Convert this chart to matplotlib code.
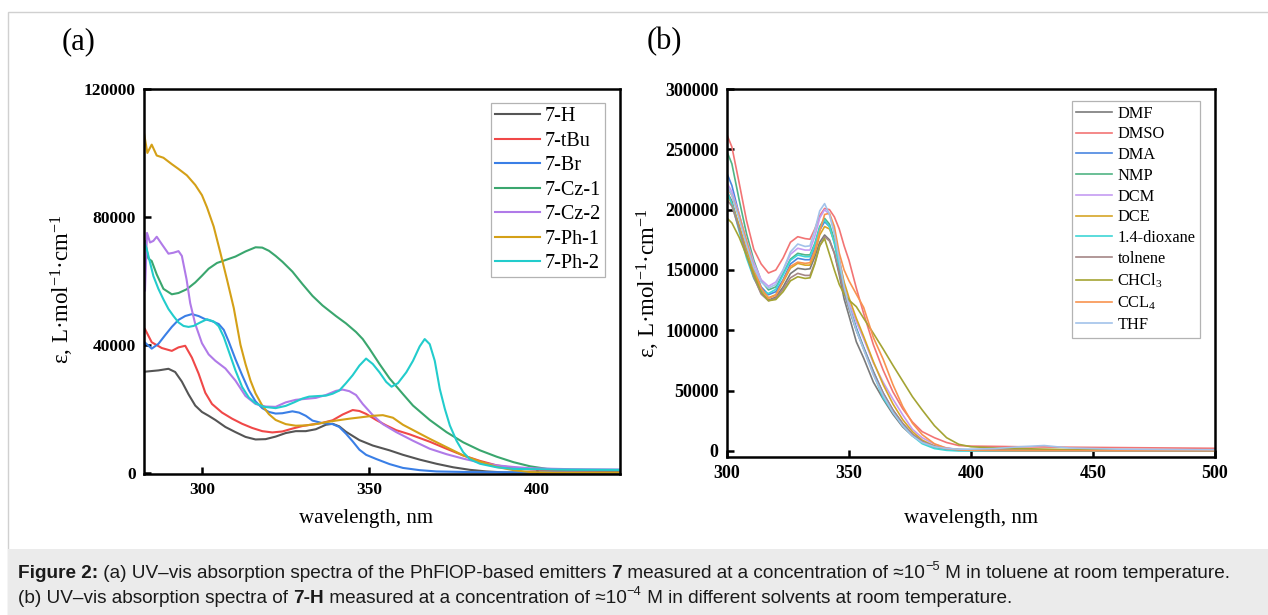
import matplotlib
matplotlib.use("Agg")
import matplotlib.pyplot as plt
from matplotlib.patches import Rectangle

# ---------------- Panel (a) data: 7 emitters in toluene ----------------
h_wl = [283, 287, 290, 292, 294, 296, 298, 300, 302, 304, 307, 310, 313, 316, 319, 322, 325, 328,
        331, 334, 337, 339, 341, 343, 347, 351, 356, 360, 365, 370, 375, 380, 385, 390, 400, 425]
h_eps = [31600, 32000, 32500, 31500, 28500, 24500, 21000, 19000, 17800, 16500, 14300, 12700, 11200,
         10400, 10500, 11300, 12400, 13000, 13000, 13600, 15000, 15300, 14500, 12800, 10200, 8500,
         7000, 5600, 4100, 2800, 1700, 900, 400, 100, 0, 0]

tbu_wl = [283, 285, 288, 291, 293, 295, 297, 299, 301, 303, 306, 309, 312, 315, 318, 321, 324, 327,
          330, 333, 336, 339, 342, 345, 347, 349, 352, 355, 358, 362, 368, 373, 378, 383, 388, 393,
          398, 405, 425]
tbu_eps = [44900, 40800, 39000, 38100, 39200, 39700, 36000, 31000, 25000, 21500, 18800, 16900, 15300,
           14000, 13000, 12600, 12900, 13800, 14600, 15100, 15600, 16400, 18200, 19600, 19300, 18400,
           16500, 14800, 13300, 12000, 9700, 7500, 5400, 3700, 2300, 1500, 1000, 700, 500]

br_wl = [283, 285, 287, 289, 291, 293, 295, 297, 299, 301, 303, 305, 306.5, 308, 310, 312, 314, 316,
         318, 320, 322, 324, 327, 329, 331, 333, 336, 339, 341, 343, 345, 347, 349, 352, 356, 360,
         365, 370, 380, 400, 425]
br_eps = [40700, 38800, 40300, 43000, 45600, 47800, 49000, 49600, 49000, 48000, 47400, 46500, 44700,
          41000, 35500, 30500, 25800, 22300, 20200, 19000, 18500, 18600, 19200, 18800, 17800, 16300,
          15500, 15200, 14300, 12200, 9800, 7200, 5600, 4300, 2700, 1500, 800, 400, 200, 100, 0]

cz1_wl = [283, 284, 285, 286.5, 288.5, 291, 293, 295.5, 298, 300, 302, 304.5, 307, 310, 313, 316, 318,
          320, 322, 324, 327, 330, 333, 336, 340, 343, 346, 348, 350, 353, 356, 360, 363, 368, 373,
          378, 383, 388, 393, 398, 403, 410, 425]
cz1_eps = [72400, 67000, 66200, 62000, 57500, 55800, 56200, 57400, 59500, 61600, 63800, 65600, 66500,
           67600, 69200, 70500, 70400, 69400, 67800, 66000, 62900, 59000, 55300, 52300, 49000, 46700,
           44000, 41800, 38800, 34000, 29500, 24600, 21000, 16500, 12700, 9500, 7000, 5000, 3300,
           2000, 1200, 900, 700]

cz2_wl = [283, 283.6, 284.5, 285.5, 286.5, 288, 290, 291.5, 293, 294, 295.4, 296.5, 298, 300, 302, 304,
          307, 310, 313, 316, 319, 322, 325, 328, 331, 334, 337, 340, 342, 344, 346, 348, 351, 354,
          358, 363, 368, 373, 378, 383, 388, 393, 398, 410, 425]
cz2_eps = [57000, 75000, 72000, 72500, 73800, 71500, 68500, 68800, 69300, 67800, 60500, 53000, 46500,
           40500, 37000, 35000, 32600, 28800, 24000, 21500, 20700, 20600, 22000, 22800, 23100, 23400,
           24300, 25600, 26000, 25500, 24300, 21500, 18000, 15200, 12700, 10000, 7500, 5800, 4400,
           3200, 2300, 1800, 1400, 1100, 1000]

ph1_wl = [282.7, 283.7, 285, 286.5, 288.5, 291, 293, 295.5, 298, 300, 301.5, 303.5, 305.5, 307.5,
          309.5, 311.5, 313, 314.5, 316, 318, 320, 322, 325, 328, 331, 334, 337, 340, 344, 348, 351,
          354, 357, 360, 364, 368, 373, 378, 383, 388, 393, 398, 405, 425]
ph1_eps = [106200, 100000, 102600, 99200, 98500, 96500, 95000, 93000, 90000, 86800, 83000, 77000,
           68800, 60300, 51500, 40000, 34000, 28800, 24800, 21000, 18300, 16500, 15200, 14700, 14800,
           15200, 15800, 16300, 16900, 17400, 17800, 18000, 17200, 15000, 12800, 10600, 8000, 5400,
           3500, 1800, 800, 200, 0, 0]

ph2_wl = [282.7, 283.5, 285.5, 287, 288.5, 290, 291.5, 293, 294.5, 296, 297.5, 299.5, 301.5, 303.5,
          305, 306.5, 308, 310, 312, 314, 316, 318.5, 322, 325, 327.5, 330, 332, 335, 337, 339, 341,
          343, 345, 347, 349, 351, 353, 355, 356.6, 358.5, 361, 363, 365, 366.5, 368, 369.5, 371,
          372.5, 374, 376, 378, 380, 383, 388, 393, 405, 425]
ph2_eps = [72400, 70000, 61500, 57500, 54200, 51200, 49000, 47000, 45900, 45600, 45900, 47000, 48000,
           47300, 45800, 42500, 38000, 32000, 26800, 23500, 21700, 20600, 20200, 20900, 22000, 23200,
           23800, 24000, 24100, 24700, 25700, 28000, 30500, 33500, 35700, 34000, 31400, 28400, 26900,
           28000, 31400, 35000, 39500, 41800, 40200, 35000, 26200, 20000, 14800, 10000, 6400, 4200,
           2800, 1700, 1200, 1000, 900]

a_labels = ["7-H", "7-tBu", "7-Br", "7-Cz-1", "7-Cz-2", "7-Ph-1", "7-Ph-2"]
a_colors = ["#555555", "#f04848", "#3a7fe6", "#3aa66e", "#b07ae8", "#d4a017", "#22cccc"]
a_series = [(h_wl, h_eps), (tbu_wl, tbu_eps), (br_wl, br_eps), (cz1_wl, cz1_eps),
            (cz2_wl, cz2_eps), (ph1_wl, ph1_eps), (ph2_wl, ph2_eps)]

# ---------------- Panel (b) data: 7-H in different solvents ----------------
b_wl = [300, 302, 305, 308, 311, 314, 317, 320, 323, 326, 329, 332, 334, 336, 338, 340, 342, 344,
        346, 348, 350, 353, 356, 360, 364, 368, 372, 376, 380, 385, 390, 395, 400, 410, 420, 430,
        440, 460, 480, 500]

dmf = [215000, 207000, 185000, 162000, 144000, 131000, 125000, 127500, 136000, 147000, 151400, 150500,
       151000, 161000, 173000, 179000, 175000, 164000, 146000, 126000, 112000, 90500, 77000, 57000,
       43000, 30500, 20000, 12500, 7500, 4000, 2200, 1200, 800, 500, 400, 300, 300, 200, 200, 200]
dmso = [262000, 252000, 222000, 191000, 167000, 155000, 147500, 150000, 160000, 173000, 177600, 176000,
        175500, 184000, 195000, 201000, 200000, 194000, 184000, 170000, 158000, 135000, 114000, 88000,
        67000, 49000, 35000, 24000, 16000, 11000, 7000, 4500, 4000, 3800, 3500, 3300, 3100, 2800, 2500,
        2200]
dma = [230000, 220000, 196000, 172000, 151000, 136000, 129500, 132000, 142000, 155000, 159700, 158500,
       158500, 168000, 183000, 190000, 186000, 173000, 155000, 136000, 121000, 102000, 86000, 66000,
       48000, 34000, 22500, 13500, 7500, 3500, 1500, 800, 500, 400, 300, 300, 300, 200, 200, 200]
nmp = [248000, 238000, 208000, 180000, 158000, 141000, 133500, 136000, 147000, 159000, 163800, 162500,
       162500, 172000, 186000, 192800, 188000, 175000, 156000, 136000, 121000, 101000, 85000, 65000,
       47000, 33000, 22000, 13000, 7000, 3000, 1300, 700, 500, 400, 300, 300, 300, 200, 200, 200]
dcm = [222000, 215000, 196000, 175000, 156000, 142000, 136500, 140000, 150000, 163000, 168000, 166500,
       166500, 178000, 193000, 200000, 196000, 182000, 160000, 138000, 123000, 107000, 93000, 73000,
       57000, 43000, 30000, 18000, 11000, 5500, 2500, 1200, 600, 200, 0, 0, 0, 0, 0, 0]
dce = [212000, 205000, 187000, 167000, 148000, 134000, 127000, 129500, 140000, 151500, 155500, 154000,
       154000, 164000, 179000, 186000, 184000, 174000, 158000, 140000, 127000, 110000, 95000, 74000,
       55000, 39000, 26000, 16000, 9000, 4000, 1800, 1000, 700, 500, 400, 400, 300, 300, 300, 300]
dioxane = [215000, 205000, 182000, 160000, 143000, 133000, 130500, 134000, 146000, 158000, 162400,
           161000, 161000, 171000, 185000, 191400, 186000, 172000, 152000, 131000, 118000, 100000,
           85000, 64000, 44000, 32000, 21000, 12500, 6000, 2000, 500, 0, 0, 0, 0, 0, 0, 0, 0, 0]
tolnene = [208000, 203000, 184000, 163000, 144000, 130000, 124500, 126500, 134000, 143500, 147200,
           145500, 145500, 156000, 170000, 177600, 174000, 164000, 148000, 131000, 118000, 100000,
           85000, 65000, 48000, 34000, 23000, 14000, 8000, 3800, 1800, 1000, 700, 500, 400, 300, 300,
           300, 300, 300]
chcl3 = [193000, 189000, 177000, 162000, 146000, 132000, 124500, 125500, 132000, 141000, 144400,
         143000, 143500, 155000, 170000, 176000, 163000, 150000, 138000, 130000, 125000, 119600, 110000,
         97500, 84500, 71000, 58000, 45000, 34000, 21000, 11000, 5500, 3500, 2500, 2000, 1500, 1200,
         1000, 800, 600]
ccl4 = [218000, 212000, 195000, 174000, 152000, 135000, 126500, 129000, 141000, 153000, 156500, 155500,
        156000, 166000, 182000, 196000, 197000, 186000, 164000, 150000, 141000, 130000, 119000, 94000,
        76000, 55000, 37000, 23000, 13500, 6000, 2200, 1000, 500, 400, 300, 300, 300, 200, 200, 200]
thf = [220000, 212000, 192000, 171000, 152000, 140000, 135000, 138000, 150000, 165000, 171500, 169500,
       170000, 183000, 199000, 205000, 196000, 180000, 158000, 136000, 120000, 100000, 84000, 63000,
       46000, 32000, 21000, 12500, 7000, 3500, 2000, 1500, 1500, 2000, 3500, 4500, 2500, 1500, 1200,
       1000]

b_labels = ["DMF", "DMSO", "DMA", "NMP", "DCM", "DCE", "1.4-dioxane", "tolnene",
            "CHCl$_3$", "CCL$_4$", "THF"]
b_colors = ["#7a7a7a", "#f27474", "#4a86e0", "#50b484", "#c59cf2", "#d6a628", "#3ed6d6",
            "#a48686", "#a4a434", "#f8934f", "#a2c2ea"]
b_series = [dmf, dmso, dma, nmp, dcm, dce, dioxane, tolnene, chcl3, ccl4, thf]

# ---------------- Figure ----------------
W, H = 1268, 615
plt.rcParams["font.family"] = ["Liberation Serif", "DejaVu Serif"]
plt.rcParams["mathtext.fontset"] = "custom"
plt.rcParams["mathtext.rm"] = "Liberation Serif"
plt.rcParams["mathtext.it"] = "Liberation Serif:italic"
plt.rcParams["mathtext.bf"] = "Liberation Serif:bold"

fig = plt.figure(figsize=(W / 100, H / 100), dpi=100)
fig.patch.set_facecolor("white")


def px_rect(l, t, r, b):
    return [l / W, 1 - b / H, (r - l) / W, (b - t) / H]


# outer frame and caption background
fig.patches.append(Rectangle((8 / W, 0), 1 - 8 / W + 0.01, 1 - 12 / H, transform=fig.transFigure,
                             facecolor="none", edgecolor="#d0d0d0", lw=1.0))
fig.patches.append(Rectangle((8 / W, 0), 1 - 8 / W + 0.01, (H - 549) / H, transform=fig.transFigure,
                             facecolor="#ebebeb", edgecolor="none"))

ax1 = fig.add_axes(px_rect(144, 89, 620, 474))
ax2 = fig.add_axes(px_rect(727, 89, 1215, 457))

for (wl, eps), lab, col in zip(a_series, a_labels, a_colors):
    ax1.plot(wl, eps, color=col, lw=1.5, label=lab)
for vals, lab, col in zip(b_series, b_labels, b_colors):
    ax2.plot(b_wl, vals, color=col, lw=1.2, label=lab)

ax1.set_xlim(282.7, 424.8)
ax1.set_ylim(-400, 120000)
ax1.set_xticks([300, 350, 400])
ax1.set_yticks([0, 40000, 80000, 120000])

ax2.set_xlim(300, 500)
ax2.set_ylim(-5000, 300000)
ax2.set_xticks([300, 350, 400, 450, 500])
ax2.set_yticks([0, 50000, 100000, 150000, 200000, 250000, 300000])

ylabel = "ε, L·mol$^{-1}$·cm$^{-1}$"
for ax, tsize in ((ax1, 12.5), (ax2, 13)):
    for s in ax.spines.values():
        s.set_linewidth(1.8)
        s.set_color("black")
    ax.tick_params(direction="in", length=5, width=1.8, labelsize=tsize, pad=6)
    for lab in ax.get_xticklabels() + ax.get_yticklabels():
        lab.set_fontweight("bold")
    ax.set_xlabel("wavelength, nm", fontsize=15)
    ax.set_ylabel(ylabel, fontsize=16.5)
    ax.xaxis.label.set_va("center")
    ax.yaxis.label.set_va("center")

ax1.xaxis.set_label_coords((366 - 144) / 476, (474 - 519) / 385)
ax1.yaxis.set_label_coords((62 - 144) / 476, (474 - 289) / 385)
ax2.xaxis.set_label_coords(0.5, (457 - 519) / 368)
ax2.yaxis.set_label_coords((648 - 727) / 488, (457 - 283) / 368)

leg1 = ax1.legend(loc="upper right", bbox_to_anchor=((605 - 144) / 476, 1 - (103 - 89) / 385),
                  borderaxespad=0, fontsize=14.5, frameon=True, fancybox=False, handlelength=2.2,
                  handletextpad=0.25, labelspacing=0.27, borderpad=0.2)
leg2 = ax2.legend(loc="upper right", bbox_to_anchor=((1200 - 727) / 488, 1 - (101 - 89) / 368),
                  borderaxespad=0, fontsize=11.8, frameon=True, fancybox=False, handlelength=2.2,
                  handletextpad=0.3, labelspacing=0.29, borderpad=0.28)
for leg in (leg1, leg2):
    leg.get_frame().set_edgecolor("#a0a0a0")
    leg.get_frame().set_linewidth(0.9)

fig.text(79 / W, 1 - 42 / H, "(a)", fontsize=22, ha="center", va="center")
fig.text(664 / W, 1 - 42 / H, "(b)", fontsize=22, ha="center", va="center")

# ---------------- caption ----------------
renderer = fig.canvas.get_renderer()


def rich_line(x_px, y_px, pieces, size):
    x = x_px
    for txt, bold, sup in pieces:
        fs = size * 0.68 if sup else size
        dy = size * 0.42 * 100 / 72 if sup else 0
        t = fig.text(x / W, 1 - (y_px - dy) / H, txt, fontsize=fs,
                     fontweight="bold" if bold else "normal",
                     family=["Liberation Sans", "DejaVu Sans"], ha="left", va="baseline",
                     color="#1a1a1a")
        x += t.get_window_extent(renderer).width


cap_size = 13.65
rich_line(18, 578, [("Figure 2:", True, False),
                    (" (a) UV–vis absorption spectra of the PhFlOP-based emitters ", False, False),
                    ("7", True, False),
                    (" measured at a concentration of ≈10", False, False),
                    ("−5", False, True),
                    (" M in toluene at room temperature.", False, False)], cap_size)
rich_line(18, 603, [("(b) UV–vis absorption spectra of ", False, False),
                    ("7-H", True, False),
                    (" measured at a concentration of ≈10", False, False),
                    ("−4", False, True),
                    (" M in different solvents at room temperature.", False, False)], cap_size)

fig.savefig("out.png", dpi=100)
